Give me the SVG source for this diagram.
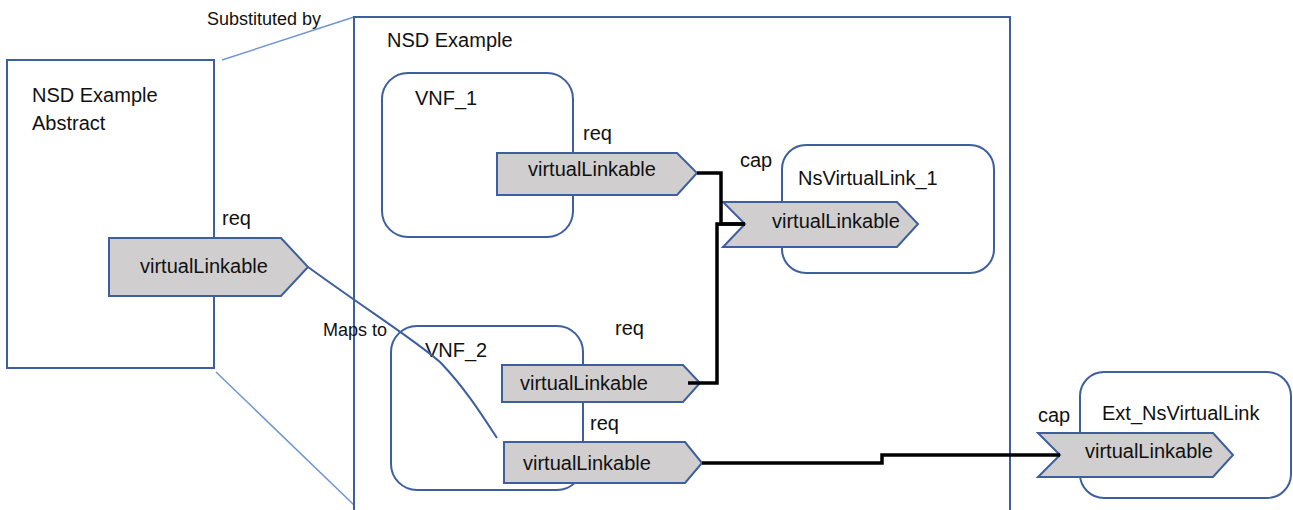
<svg xmlns="http://www.w3.org/2000/svg" width="1293" height="510" viewBox="0 0 1293 510">
<style>
text{font-family:"Liberation Sans",Arial,sans-serif;fill:#111;font-size:20px}
.sm{font-size:18px}
.box{fill:none;stroke:#3d5f9e;stroke-width:2}
.rbox{fill:#fff;stroke:#3d5f9e;stroke-width:2}
.port{fill:#d0cece;stroke:#3d5f9e;stroke-width:2;stroke-linejoin:miter}
.lite{fill:none;stroke:#6f95d3;stroke-width:1.5}
.map{fill:none;stroke:#3d5f9e;stroke-width:2}
.link{fill:none;stroke:#000;stroke-width:3.5;stroke-linejoin:miter}
</style>
<rect width="1293" height="510" fill="#fff"/>

<g id="substitution">
<line class="lite" x1="222" y1="60" x2="354" y2="17"/>
<line class="lite" x1="216" y1="372" x2="354" y2="505"/>
<text class="sm" x="207" y="25">Substituted by</text>
</g>

<g id="nsd-abstract">
<rect class="box" x="7" y="60" width="207" height="308"/>
<text x="32" y="102">NSD Example</text>
<text x="32" y="130">Abstract</text>
<text x="222" y="225">req</text>
<polygon class="port" points="109,238 281,238 308,267 281,296 109,296"/>
<text x="140" y="273">virtualLinkable</text>
</g>

<g id="nsd-example">
<path class="box" d="M354,510 V17 H1010 V510"/>
<text x="387" y="47">NSD Example</text>
</g>

<g id="vnf1">
<rect class="rbox" x="382" y="73" width="191" height="164" rx="26"/>
<text x="415" y="105">VNF_1</text>
<text x="583" y="140">req</text>
<polygon class="port" points="497,153 677,153 697,173 677,195 497,195"/>
<text x="528" y="176">virtualLinkable</text>
</g>

<g id="nsvl1">
<rect class="rbox" x="782" y="145" width="212" height="128" rx="24"/>
<text x="740" y="167">cap</text>
<text x="798" y="185">NsVirtualLink_1</text>
<polygon class="port" points="723,202 897,202 918,224 897,247 723,247 745,224"/>
<text x="772" y="228">virtualLinkable</text>
</g>

<g id="vnf2">
<rect class="rbox" x="391" y="326" width="192" height="164" rx="26"/>
<text x="425" y="357">VNF_2</text>
<text x="615" y="335">req</text>
<polygon class="port" points="502,365 683,365 700,383 683,402 502,402"/>
<text x="520" y="390">virtualLinkable</text>
<text x="590" y="430">req</text>
<polygon class="port" points="504,442 685,442 702,463 685,483 504,483"/>
<text x="523" y="470">virtualLinkable</text>
</g>

<g id="ext-nsvl">
<rect class="rbox" x="1080" y="372" width="211" height="126" rx="24"/>
<text x="1038" y="422">cap</text>
<text x="1102" y="420">Ext_NsVirtualLink</text>
<polygon class="port" points="1038,433 1213,433 1233,455 1213,477 1038,477 1060,455"/>
<text x="1085" y="458">virtualLinkable</text>
</g>

<g id="connectors">
<path class="link" d="M697,173 H721 V224 H745"/>
<path class="link" d="M688,383 H717 V224 H745"/>
<path class="link" d="M702,463 H882 V455 H1060"/>
<path class="map" d="M308,267 C370,312 415,340 440,362 C465,388 482,415 497,438"/>
<text class="sm" x="323" y="336">Maps to</text>
</g>
</svg>
